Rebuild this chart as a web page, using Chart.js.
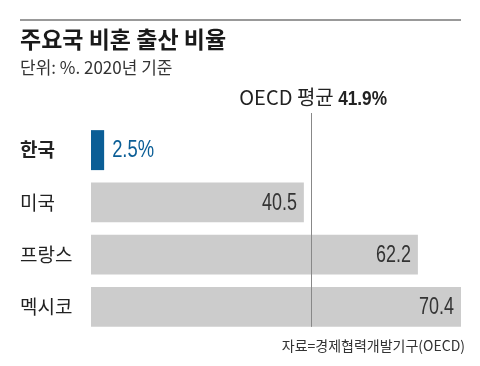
<!DOCTYPE html>
<html>
<head>
<meta charset="utf-8">
<script src="https://cdn.jsdelivr.net/npm/chart.js@4/dist/chart.umd.min.js"></script>
<style>
html,body{margin:0;padding:0;background:#fff;}
#wrap{position:relative;width:480px;height:366px;}
canvas{display:block;}
</style>
</head>
<body>
<div id="wrap"><canvas id="c" width="480" height="366"></canvas></div>
<script>
const categories = ['한국', '미국', '프랑스', '멕시코'];
const values = [2.5, 40.5, 62.2, 70.4];
const valueLabels = ['2.5%', '40.5', '62.2', '70.4'];
const oecdAverage = 41.9;
const titleText = '주요국 비혼 출산 비율';
const subtitleText = '단위: %. 2020년 기준';
const oecdLabel = 'OECD 평균 ';
const oecdValueLabel = '41.9%';
const sourceText = '자료=경제협력개발기구(OECD)';

const KR = '"Noto Sans CJK KR", "Noto Sans", sans-serif';
const LAT = '"Liberation Sans", Arial, sans-serif';
const BLUE = '#0b5e96';
const GRAY = '#cccccc';

function narrowText(ctx, text, x, y, align, sx) {
  const w = ctx.measureText(text).width * sx;
  let left = x;
  if (align === 'right') left = x - w;
  else if (align === 'center') left = x - w / 2;
  ctx.save();
  ctx.textAlign = 'left';
  ctx.translate(left, y);
  ctx.scale(sx, 1);
  ctx.fillText(text, 0, 0);
  ctx.restore();
  return w;
}

const overlay = {
  id: 'overlay',
  afterDatasetsDraw(chart) {
    const ctx = chart.ctx;
    const x = chart.scales.x;
    const meta = chart.getDatasetMeta(0);
    ctx.save();
    // top rule
    ctx.fillStyle = '#999';
    ctx.fillRect(20, 19, 441, 2);
    // title
    ctx.fillStyle = '#1a1a1a';
    ctx.textBaseline = 'alphabetic';
    ctx.textAlign = 'left';
    ctx.font = 'bold 23px ' + KR;
    ctx.fillText(titleText, 20, 48);
    // subtitle
    ctx.fillStyle = '#333';
    ctx.font = '17px ' + KR;
    narrowText(ctx, subtitleText, 20, 74, 'left', 1.0);
    // OECD line
    const ox = Math.round(x.getPixelForValue(oecdAverage)) + 0.5;
    const lastBar = meta.data[meta.data.length - 1];
    ctx.strokeStyle = '#888';
    ctx.lineWidth = 1;
    ctx.beginPath();
    ctx.moveTo(ox, 113);
    ctx.lineTo(ox, lastBar.y + lastBar.height / 2);
    ctx.stroke();
    // OECD label
    const right = 387;
    ctx.fillStyle = '#222';
    ctx.font = 'bold 21px ' + LAT;
    const wv = narrowText(ctx, oecdValueLabel, right, 105, 'right', 0.82);
    ctx.font = '20px ' + KR;
    narrowText(ctx, oecdLabel, right - wv, 105, 'right', 1.0);
    // value labels
    ctx.font = '23px ' + LAT;
    ctx.textBaseline = 'middle';
    meta.data.forEach((bar, i) => {
      if (i === 0) {
        ctx.fillStyle = BLUE;
        narrowText(ctx, valueLabels[i], bar.x + 8, bar.y + 1, 'left', 0.8);
      } else {
        ctx.fillStyle = '#333';
        narrowText(ctx, valueLabels[i], bar.x - 7, bar.y + 1, 'right', 0.78);
      }
    });
    // source
    ctx.textBaseline = 'alphabetic';
    ctx.fillStyle = '#333';
    ctx.font = '14px ' + KR;
    narrowText(ctx, sourceText, 465, 351, 'right', 1.0);
    ctx.restore();
  }
};

new Chart(document.getElementById('c'), {
  type: 'bar',
  data: {
    labels: categories,
    datasets: [{
      data: values,
      backgroundColor: values.map((v, i) => i === 0 ? BLUE : GRAY),
      borderWidth: 0,
      barPercentage: 0.765,
      categoryPercentage: 1.0
    }]
  },
  options: {
    indexAxis: 'y',
    responsive: false,
    animation: false,
    devicePixelRatio: 1,
    layout: { padding: { left: 20, right: 19, top: 124, bottom: 33 } },
    plugins: { legend: { display: false }, tooltip: { enabled: false }, title: { display: false } },
    scales: {
      x: { display: false, min: 0, max: 70.4 },
      y: {
        grid: { display: false },
        border: { display: false },
        afterFit(scale) { scale.width = 71; },
        ticks: {
          crossAlign: 'far',
          padding: 0,
          color: '#222',
          font: (c) => ({ family: KR, size: 19, weight: c.index === 0 ? 'bold' : 'normal' })
        }
      }
    }
  },
  plugins: [overlay]
});
</script>
</body>
</html>
